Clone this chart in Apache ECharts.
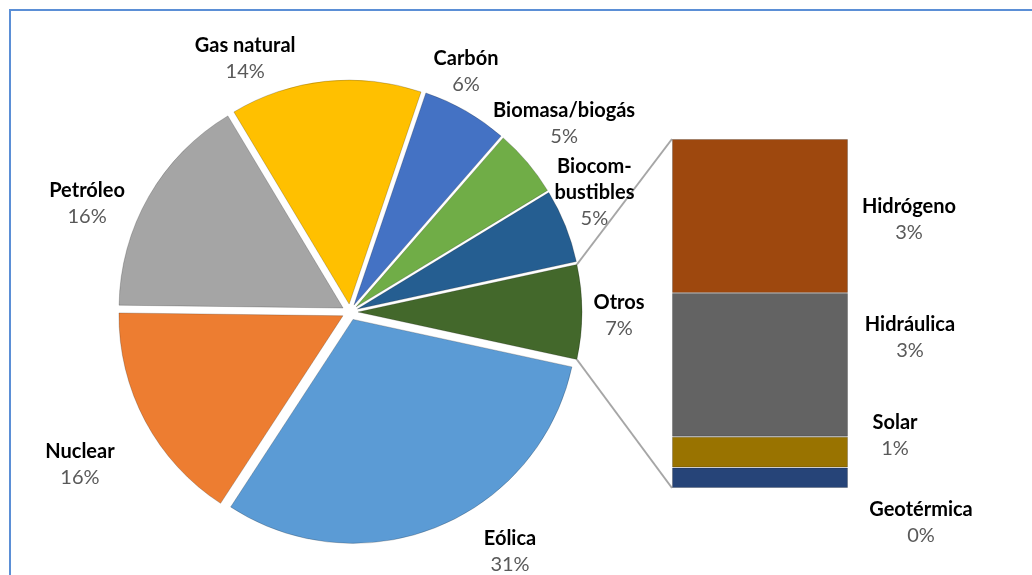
<!DOCTYPE html>
<html>
<head>
<meta charset="utf-8">
<script src="https://cdn.jsdelivr.net/npm/echarts@6/dist/echarts.min.js"></script>
<style>
  html, body { margin: 0; padding: 0; background: #fff; }
  #chart { width: 1032px; height: 575px; }
</style>
</head>
<body>
<div id="chart"></div>
<script>
// pie slices (clockwise from 3 o'clock)
const categories = ['Eólica', 'Nuclear', 'Petróleo', 'Gas natural', 'Carbón', 'Biomasa/biogás', 'Biocom-\nbustibles', 'Otros'];
const values = [30.8, 16.0, 16.2, 13.8, 6.2, 4.9, 5.3, 6.8];
const sliceColors = ['#5B9BD5', '#ED7D31', '#A5A5A5', '#FFC000', '#4472C4', '#70AD47', '#255E91', '#43682B'];

// breakdown of "Otros" (bottom to top)
const subCategories = ['Geotérmica', 'Solar', 'Hidráulica', 'Hidrógeno'];
const subValues = [0.4, 0.6, 2.8, 3.0];
const subColors = ['#264478', '#997300', '#636363', '#9E480E'];

// layout
const CX = 350, CY = 312, R = 224, OFFSET = 8;
const GRID = { left: 672, top: 139, width: 176, height: 349 };
const pieLabelPos = [[507, 544], [87, 461], [94, 208], [246, 67], [462, 78], [558, 129], [587, 196], [611, 316]];
const barLabelPos = [[921, 523], [895, 436], [910, 338], [909, 220]];

const total = values.reduce((a, b) => a + b, 0);
const subTotal = subValues.reduce((a, b) => a + b, 0);
const otrosHalf = values[values.length - 1] / total * 180;

const rich = {
    n: { fontFamily: 'Lato', fontWeight: 'bold', fontSize: 20, color: '#000', lineHeight: 26, align: 'center' },
    p: { fontFamily: 'Lato', fontSize: 20, color: '#595959', lineHeight: 26, align: 'center' }
};
const fmt = (name, v) => '{n|' + name + '}\n{p|' + Math.round(v) + '%}';

// move a label so that its box is centred on a target point
const centreOn = (pos) => (params) => {
    const r = params.labelRect;
    return { dx: pos[0] - (r.x + r.width / 2), dy: pos[1] - (r.y + r.height / 2) };
};

const chart = echarts.init(document.getElementById('chart'));

const barSeries = subCategories.map((name, i) => ({
    name: name,
    type: 'bar',
    stack: 'otros',
    barWidth: '100%',
    data: [subValues[i]],
    itemStyle: { color: subColors[i], borderColor: 'rgba(0,0,0,0.2)', borderWidth: 1 },
    label: {
        show: true,
        position: 'right',
        formatter: () => fmt(name, subValues[i]),
        rich: rich
    },
    labelLayout: centreOn(barLabelPos[i]),
    emphasis: { disabled: true }
}));

// Otros corners -> bar corners
const rad = otrosHalf * Math.PI / 180;
const ax = CX + OFFSET;
const topCorner = [ax + R * Math.cos(rad), CY - R * Math.sin(rad)];
const botCorner = [ax + R * Math.cos(rad), CY + R * Math.sin(rad)];

const option = {
    animation: false,
    backgroundColor: '#fff',
    grid: { left: GRID.left, top: GRID.top, width: GRID.width, height: GRID.height },
    xAxis: { type: 'category', data: ['Otros'], show: false },
    yAxis: { type: 'value', min: 0, max: subTotal, show: false, splitLine: { show: false } },
    graphic: [
        { type: 'rect', shape: { x: 10, y: 10, width: 1040, height: 600 }, style: { fill: 'none', stroke: '#5B8FD6', lineWidth: 2 }, silent: true },
        { type: 'line', shape: { x1: topCorner[0], y1: topCorner[1], x2: GRID.left, y2: GRID.top }, style: { stroke: '#A6A6A6', lineWidth: 2 }, silent: true },
        { type: 'line', shape: { x1: botCorner[0], y1: botCorner[1], x2: GRID.left, y2: GRID.top + GRID.height }, style: { stroke: '#A6A6A6', lineWidth: 2 }, silent: true }
    ],
    series: [{
        type: 'pie',
        center: [CX, CY],
        radius: R,
        startAngle: -otrosHalf,
        clockwise: true,
        selectedMode: 'multiple',
        selectedOffset: OFFSET,
        avoidLabelOverlap: false,
        data: categories.map((c, i) => ({
            name: c,
            value: values[i],
            selected: true,
            itemStyle: { color: sliceColors[i] }
        })),
        itemStyle: { borderColor: 'rgba(0,0,0,0.2)', borderWidth: 1 },
        label: {
            show: true,
            position: 'outside',
            formatter: (p) => fmt(p.name, p.value),
            rich: rich
        },
        labelLine: { show: false },
        labelLayout: (params) => centreOn(pieLabelPos[params.dataIndex])(params),
        emphasis: { disabled: true }
    }].concat(barSeries)
};

chart.setOption(option);
window.addEventListener('resize', () => chart.resize());
</script>
</body>
</html>
